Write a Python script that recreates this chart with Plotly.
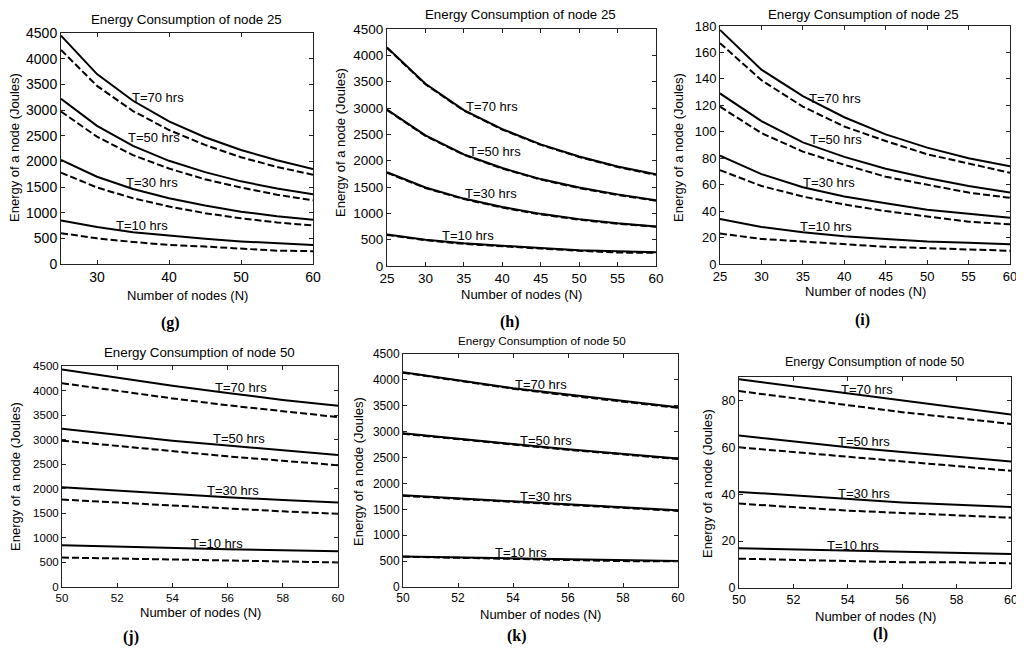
import plotly.graph_objects as go

# number of nodes sampled on the x axis
N_TOP = [25, 30, 35, 40, 45, 50, 55, 60]
N_BOTTOM = [50, 52, 54, 56, 58, 60]
T_LABELS = ['T=70 hrs', 'T=50 hrs', 'T=30 hrs', 'T=10 hrs']

# (g) energy of node 25, rows follow T_LABELS
G_SOLID = [[4450, 3700, 3180, 2780, 2470, 2220, 2020, 1850],
           [3220, 2690, 2300, 2010, 1790, 1610, 1470, 1360],
           [2030, 1700, 1460, 1280, 1140, 1020, 930, 860],
           [850, 720, 620, 550, 490, 440, 400, 370]]
G_DASHED = [[4170, 3470, 2980, 2610, 2320, 2080, 1890, 1740],
            [2970, 2480, 2120, 1860, 1650, 1490, 1350, 1240],
            [1780, 1490, 1280, 1120, 990, 890, 810, 750],
            [600, 500, 430, 370, 340, 300, 260, 250]]

# (h)
H_SOLID = [[4150, 3460, 2960, 2600, 2310, 2080, 1890, 1740],
           [2970, 2480, 2120, 1860, 1650, 1490, 1360, 1250],
           [1780, 1490, 1280, 1120, 990, 890, 810, 750],
           [600, 500, 430, 380, 340, 300, 280, 260]]
H_DASHED = [[4140, 3450, 2950, 2590, 2300, 2070, 1880, 1730],
            [2960, 2470, 2110, 1850, 1640, 1480, 1350, 1240],
            [1770, 1480, 1270, 1110, 980, 880, 800, 745],
            [590, 490, 420, 370, 330, 290, 255, 250]]

# (i)
I_SOLID = [[177, 147, 127, 111, 98, 88, 80, 74],
           [129, 108, 92, 81, 72, 65, 59, 54],
           [82, 68, 58, 51, 46, 41, 38, 35],
           [34, 28, 24, 21, 19, 17, 16, 15]]
I_DASHED = [[167, 139, 119, 104, 93, 83, 76, 69],
            [119, 99, 85, 75, 66, 60, 54, 50],
            [71, 59, 51, 45, 40, 36, 32, 30],
            [23, 19, 17, 15, 13, 12, 11, 10]]

# (j) energy of node 50
J_SOLID = [[4430, 4260, 4100, 3950, 3810, 3690],
           [3220, 3100, 2980, 2880, 2780, 2690],
           [2030, 1960, 1890, 1830, 1770, 1720],
           [850, 820, 790, 770, 750, 730]]
J_DASHED = [[4150, 3990, 3840, 3700, 3580, 3460],
            [2980, 2870, 2760, 2660, 2570, 2480],
            [1780, 1720, 1650, 1600, 1540, 1490],
            [600, 580, 560, 540, 520, 500]]

# (k)
K_SOLID = [[4150, 3990, 3840, 3720, 3590, 3470],
           [2970, 2860, 2760, 2660, 2570, 2480],
           [1770, 1710, 1650, 1590, 1530, 1480],
           [590, 570, 550, 530, 515, 500]]
K_DASHED = [[4140, 3980, 3830, 3700, 3580, 3460],
            [2960, 2850, 2750, 2650, 2560, 2470],
            [1760, 1700, 1640, 1580, 1530, 1470],
            [585, 565, 545, 520, 500, 495]]

# (l)
L_SOLID = [[89, 86, 83, 80, 77, 74],
           [65, 62.5, 60, 58, 56, 54],
           [41, 39.5, 38, 36.5, 35.5, 34.5],
           [17, 16.5, 16, 15.5, 15, 14.5]]
L_DASHED = [[84, 81, 78, 75, 72.5, 70],
            [60, 58, 56, 54, 52, 50],
            [36, 34.5, 33, 32, 31, 30],
            [12.5, 12, 11.5, 11, 11, 10.5]]

# the page puts the figure 8px in from the corner, so work in window pixels
OFFSET = 8
W, H = 1024 - OFFSET, 651 - OFFSET

# one entry per panel: pixel box, axis setup and label spots
PANELS = [
    dict(x=N_TOP, solid=G_SOLID, dashed=G_DASHED, box=(61, 33, 313, 264),
         xr=[25, 60], xt=[30, 40, 50, 60], yr=[0, 4500], dy=500, tick=14,
         title='Energy Consumption of node 25', title_xy=(186, 19), title_size=13.3,
         xlab_y=295, ylab_xy=(15, 148), letter='(g)', letter_xy=(170, 323),
         spots=[(38.5, 3250), (37.9, 2455), (37.6, 1590), (36.2, 755)]),
    dict(x=N_TOP, solid=H_SOLID, dashed=H_DASHED, box=(387, 29, 656, 266),
         xr=[25, 60], xt=[25, 30, 35, 40, 45, 50, 55, 60], yr=[0, 4500], dy=500, tick=13.5,
         title='Energy Consumption of node 25', title_xy=(520, 15), title_size=13.3,
         xlab_y=294, ylab_xy=(340, 143), letter='(h)', letter_xy=(510, 322),
         spots=[(38.6, 3035), (39.1, 2167), (38.5, 1375), (35.5, 577)]),
    dict(x=N_TOP, solid=I_SOLID, dashed=I_DASHED, box=(720, 26, 1010, 264),
         xr=[25, 60], xt=[25, 30, 35, 40, 45, 50, 55, 60], yr=[0, 180], dy=20, tick=13,
         title='Energy Consumption of node 25', title_xy=(863, 14), title_size=13.3,
         xlab_y=291, ylab_xy=(679, 148), letter='(i)', letter_xy=(862, 320),
         spots=[(38.9, 125), (39.0, 94.5), (38.2, 61.7), (37.8, 28.5)]),
    dict(x=N_BOTTOM, solid=J_SOLID, dashed=J_DASHED, box=(62, 366, 338, 587),
         xr=[50, 60], xt=[50, 52, 54, 56, 58, 60], yr=[0, 4500], dy=500, tick=11.5,
         title='Energy Consumption of node 50', title_xy=(199, 352), title_size=13.3,
         xlab_y=612, ylab_xy=(15, 477), letter='(j)', letter_xy=(131, 637),
         spots=[(56.5, 4065), (56.4, 3028), (56.2, 1965), (55.6, 881)]),
    dict(x=N_BOTTOM, solid=K_SOLID, dashed=K_DASHED, box=(403, 354, 678, 587),
         xr=[50, 60], xt=[50, 52, 54, 56, 58, 60], yr=[0, 4500], dy=500, tick=12,
         title='Energy Consumption of node 50', title_xy=(542, 340), title_size=11.7,
         xlab_y=614, ylab_xy=(358, 472), letter='(k)', letter_xy=(517, 636),
         spots=[(55.0, 3908), (55.2, 2823), (55.2, 1744), (54.3, 659)]),
    dict(x=N_BOTTOM, solid=L_SOLID, dashed=L_DASHED, box=(739, 377, 1011, 588),
         xr=[50, 60], xt=[50, 52, 54, 56, 58, 60], yr=[0, 90], dy=20, tick=12.5,
         title='Energy Consumption of node 50', title_xy=(874, 362), title_size=12.5,
         xlab_y=616, ylab_xy=(707, 484), letter='(l)', letter_xy=(880, 634),
         spots=[(54.7, 84.5), (54.6, 62.3), (54.6, 40.4), (54.2, 18)]),
]

FONT = 'Liberation Sans'


def px_x(v):
    return (v - OFFSET) / W


def px_y(v):
    return 1 - (v - OFFSET) / H


def paper_text(text, x, y, size, angle=0, family=FONT, bold=False):
    """text annotation placed by pixel position (center)"""
    if bold:
        text = '<b>' + text + '</b>'
    return dict(text=text, x=px_x(x), y=px_y(y), xref='paper', yref='paper',
                showarrow=False, xanchor='center', yanchor='middle', textangle=angle,
                font=dict(family=family, size=size, color='black'))


fig = go.Figure()
annotations = []

for i, p in enumerate(PANELS):
    k = '' if i == 0 else str(i + 1)
    xa, ya = 'x' + k, 'y' + k
    for solid, dashed in zip(p['solid'], p['dashed']):
        fig.add_trace(go.Scatter(x=p['x'], y=dashed, mode='lines', xaxis=xa, yaxis=ya,
                                 line=dict(color='black', width=2, dash='7px,3px'),
                                 showlegend=False))
        fig.add_trace(go.Scatter(x=p['x'], y=solid, mode='lines', xaxis=xa, yaxis=ya,
                                 line=dict(color='black', width=2), showlegend=False))

    x0, y0, x1, y1 = p['box']
    axis_style = dict(showline=True, linecolor='#222', linewidth=1, mirror='ticks',
                      ticks='inside', ticklen=4, tickcolor='#222', showgrid=False,
                      zeroline=False, automargin=False,
                      tickfont=dict(family=FONT, size=p['tick'], color='black'))
    fig.layout['xaxis' + k] = dict(domain=[px_x(x0), px_x(x1)], range=p['xr'],
                                   tickvals=p['xt'], anchor=ya, **axis_style)
    fig.layout['yaxis' + k] = dict(domain=[px_y(y1), px_y(y0)], range=p['yr'],
                                   dtick=p['dy'], anchor=xa, **axis_style)

    mid = (x0 + x1) / 2
    annotations.append(paper_text(p['title'], p['title_xy'][0], p['title_xy'][1], p['title_size']))
    annotations.append(paper_text('Number of nodes (N)', mid, p['xlab_y'], 13))
    annotations.append(paper_text('Energy of a node (Joules)', p['ylab_xy'][0],
                                  p['ylab_xy'][1], 13, angle=-90))
    annotations.append(paper_text(p['letter'], p['letter_xy'][0], p['letter_xy'][1], 16,
                                  family='Liberation Serif', bold=True))
    for label, (sx, sy) in zip(T_LABELS, p['spots']):
        annotations.append(dict(text=label, x=sx, y=sy, xref=xa, yref=ya, showarrow=False,
                                font=dict(family=FONT, size=13, color='black')))

fig.update_layout(template='none', width=W, height=H, margin=dict(l=0, r=0, t=0, b=0),
                  plot_bgcolor='white', paper_bgcolor='white', annotations=annotations)

fig.write_html("out.html")
